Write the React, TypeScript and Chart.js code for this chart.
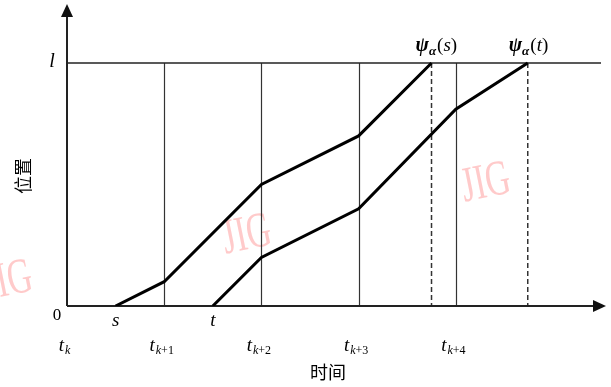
import React, { useEffect, useRef } from "react";
import { Chart, registerables } from "chart.js";

Chart.register(...registerables);

// Time axis: t_k .. t_{k+4} as integer steps; position normalised so that l = 1
const gridTimes = [0, 1, 2, 3, 4];
const gridSubs = ["k", "k+1", "k+2", "k+3", "k+4"];
const limitPos = 1;

// Trajectory starting at s
const pathSx = [0.5, 1, 2, 3, 3.75];
const pathSy = [0, 0.1, 0.5, 0.7, 1];
// Trajectory starting at t
const pathTx = [1.5, 2, 3, 4, 4.74];
const pathTy = [0, 0.2, 0.4, 0.81, 1];

const startLabels = ["s", "t"];
const psiArgs = ["s", "t"];

const axisMaxX = 5.545;
const axisMaxY = 1.243;

const SERIF = "'Liberation Serif', 'Times New Roman', serif";
const CJK = "'Noto Sans CJK SC', sans-serif";

function drawSubLabel(ctx: CanvasRenderingContext2D, cx: number, base: number, sub: string) {
  // "t" with a subscript like k+1 (k italic, +1 upright)
  const mainFont = `italic 19px ${SERIF}`;
  const subItalic = `italic 12px ${SERIF}`;
  const subUp = `12px ${SERIF}`;
  ctx.font = mainFont;
  const wT = ctx.measureText("t").width;
  ctx.font = subItalic;
  const wK = ctx.measureText("k").width;
  const rest = sub.slice(1);
  ctx.font = subUp;
  const wR = ctx.measureText(rest).width;
  const total = wT + 1 + wK + wR;
  let x = cx - total / 2;
  ctx.textAlign = "left";
  ctx.textBaseline = "alphabetic";
  ctx.font = mainFont;
  ctx.fillText("t", x, base);
  x += wT + 1;
  ctx.font = subItalic;
  ctx.fillText("k", x, base + 3);
  x += wK;
  ctx.font = subUp;
  ctx.fillText(rest, x, base + 3);
}

function drawPsi(ctx: CanvasRenderingContext2D, left: number, base: number, arg: string) {
  ctx.textAlign = "left";
  ctx.textBaseline = "alphabetic";
  let x = left;
  ctx.font = `italic bold 20px ${SERIF}`;
  ctx.fillText("\u03C8", x, base);
  x += ctx.measureText("\u03C8").width;
  ctx.font = `italic bold 13px ${SERIF}`;
  ctx.fillText("\u03B1", x, base + 4);
  x += ctx.measureText("\u03B1").width + 1;
  ctx.font = `19px ${SERIF}`;
  ctx.fillText("(", x, base);
  x += ctx.measureText("(").width;
  ctx.font = `italic 19px ${SERIF}`;
  ctx.fillText(arg, x, base);
  x += ctx.measureText(arg).width;
  ctx.font = `19px ${SERIF}`;
  ctx.fillText(")", x, base);
}

const backdropPlugin = {
  id: "backdrop",
  beforeDatasetsDraw(chart: any) {
    const { ctx, scales } = chart;
    const xs = scales.x;
    const ys = scales.y;
    const x0 = xs.getPixelForValue(0);
    const y0 = ys.getPixelForValue(0);
    const yL = ys.getPixelForValue(limitPos);
    const xEnd = xs.getPixelForValue(axisMaxX);
    const yTop = ys.getPixelForValue(axisMaxY);

    ctx.save();
    // watermarks
    const marks = [
      [8, 282],
      [247, 236],
      [486, 184],
    ];
    ctx.fillStyle = "#ffcaca";
    ctx.font = `50px ${SERIF}`;
    ctx.textAlign = "center";
    ctx.textBaseline = "middle";
    for (const [mx, my] of marks) {
      ctx.save();
      ctx.translate(mx, my);
      ctx.rotate(-0.2);
      ctx.scale(0.68, 1);
      ctx.fillText("JIG", 0, 0);
      ctx.restore();
    }

    // vertical time lines
    ctx.strokeStyle = "#333";
    ctx.lineWidth = 1.2;
    for (const t of gridTimes.slice(1)) {
      const px = Math.round(xs.getPixelForValue(t)) + 0.5;
      ctx.beginPath();
      ctx.moveTo(px, yL);
      ctx.lineTo(px, y0);
      ctx.stroke();
    }

    // limit line l
    ctx.strokeStyle = "#222";
    ctx.lineWidth = 1.5;
    ctx.beginPath();
    ctx.moveTo(x0, yL);
    ctx.lineTo(xEnd - 5, yL);
    ctx.stroke();

    // dashed lines at arrival times
    ctx.setLineDash([5, 3]);
    ctx.strokeStyle = "#333";
    ctx.lineWidth = 1.5;
    for (const ax of [pathSx[pathSx.length - 1], pathTx[pathTx.length - 1]]) {
      const px = xs.getPixelForValue(ax);
      ctx.beginPath();
      ctx.moveTo(px, yL);
      ctx.lineTo(px, y0);
      ctx.stroke();
    }
    ctx.setLineDash([]);

    // axes
    ctx.strokeStyle = "#222";
    ctx.lineWidth = 2;
    ctx.beginPath();
    ctx.moveTo(x0, y0);
    ctx.lineTo(xEnd - 10, y0);
    ctx.moveTo(x0, y0);
    ctx.lineTo(x0, yTop + 10);
    ctx.stroke();
    ctx.fillStyle = "#111";
    ctx.beginPath();
    ctx.moveTo(xEnd, y0);
    ctx.lineTo(xEnd - 13, y0 - 6);
    ctx.lineTo(xEnd - 13, y0 + 6);
    ctx.closePath();
    ctx.fill();
    ctx.beginPath();
    ctx.moveTo(x0, yTop);
    ctx.lineTo(x0 - 6, yTop + 13);
    ctx.lineTo(x0 + 6, yTop + 13);
    ctx.closePath();
    ctx.fill();
    ctx.restore();
  },
  afterDraw(chart: any) {
    const { ctx, scales } = chart;
    const xs = scales.x;
    const ys = scales.y;
    const x0 = xs.getPixelForValue(0);
    const y0 = ys.getPixelForValue(0);
    const yL = ys.getPixelForValue(limitPos);
    ctx.save();
    ctx.fillStyle = "#000";

    // l and 0
    ctx.textAlign = "center";
    ctx.textBaseline = "alphabetic";
    ctx.font = `italic 20px ${SERIF}`;
    ctx.fillText("l", x0 - 15, yL + 4);
    ctx.font = `17px ${SERIF}`;
    ctx.fillText("0", x0 - 10, y0 + 14);

    // start instants s, t
    ctx.font = `italic 19px ${SERIF}`;
    ctx.fillText(startLabels[0], xs.getPixelForValue(pathSx[0]), y0 + 20);
    ctx.fillText(startLabels[1], xs.getPixelForValue(pathTx[0]), y0 + 20);

    // time tick labels
    gridTimes.forEach((t, i) => {
      drawSubLabel(ctx, xs.getPixelForValue(t) - 2.5, y0 + 45, gridSubs[i]);
    });

    // arrival labels
    drawPsi(ctx, xs.getPixelForValue(pathSx[pathSx.length - 1]) - 16, yL - 12, psiArgs[0]);
    drawPsi(ctx, xs.getPixelForValue(pathTx[pathTx.length - 1]) - 19, yL - 12, psiArgs[1]);

    // axis titles
    ctx.font = `18px ${CJK}`;
    ctx.textAlign = "center";
    ctx.textBaseline = "middle";
    ctx.fillText("时间", 328, 372);
    ctx.save();
    ctx.translate(23, 176);
    ctx.rotate(-Math.PI / 2);
    ctx.fillText("位置", 0, 0);
    ctx.restore();
    ctx.restore();
  },
};

export default function App() {
  const ref = useRef<HTMLCanvasElement | null>(null);
  useEffect(() => {
    document.body.style.margin = "0";
    const canvas = ref.current;
    if (!canvas) return;
    const toPts = (xs: number[], ys: number[]) => xs.map((x, i) => ({ x, y: ys[i] }));
    const chart = new Chart(canvas, {
      type: "scatter",
      data: {
        datasets: [
          {
            data: toPts(pathSx, pathSy),
            showLine: true,
            borderColor: "#000",
            borderWidth: 3,
            pointRadius: 0,
            borderJoinStyle: "miter",
          },
          {
            data: toPts(pathTx, pathTy),
            showLine: true,
            borderColor: "#000",
            borderWidth: 3,
            pointRadius: 0,
            borderJoinStyle: "miter",
          },
        ],
      },
      options: {
        responsive: false,
        animation: false,
        devicePixelRatio: 1,
        layout: { padding: { left: 67, right: 5, top: 4, bottom: 81 } },
        plugins: { legend: { display: false }, tooltip: { enabled: false } },
        scales: {
          x: { type: "linear", min: 0, max: axisMaxX, display: false },
          y: { type: "linear", min: 0, max: axisMaxY, display: false },
        },
      },
      plugins: [backdropPlugin],
    } as any);
    return () => chart.destroy();
  }, []);
  return (
    <div style={{ position: "fixed", left: 0, top: 0, width: 611, height: 387, background: "#fff" }}>
      <canvas ref={ref} width={611} height={387} />
    </div>
  );
}
